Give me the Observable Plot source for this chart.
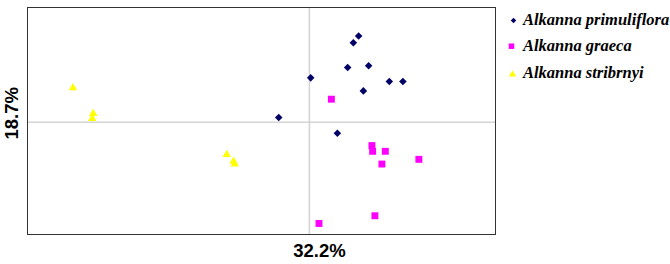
<!DOCTYPE html>
<html>
<head>
<meta charset="utf-8">
<script src="https://cdn.jsdelivr.net/npm/d3@7"></script>
<script src="https://cdn.jsdelivr.net/npm/@observablehq/plot@0.6"></script>
<style>
  html, body { margin: 0; padding: 0; background: #fff; }
  #wrap { position: relative; width: 670px; height: 264px; overflow: hidden; }
</style>
</head>
<body>
<div id="wrap"></div>
<script>
const species = ["Alkanna primuliflora", "Alkanna graeca", "Alkanna stribrnyi"];
const colors = ["#000066", "#ff00ff", "#ffff00"];
const symbols = ["diamond2", "square", "triangle"];
const xLabel = "32.2%";
const yLabel = "18.7%";

// PCA scores
const primulifloraX = [0.493, 0.440, 0.383, 0.593, 0.013, 0.800, 0.936, 0.540, -0.307, 0.280];
const primulifloraY = [0.860, 0.793, 0.547, 0.563, 0.443, 0.407, 0.407, 0.313, 0.047, -0.110];
const graecaX = [0.220, 0.626, 0.633, 0.760, 0.726, 1.096, 0.096, 0.656];
const graecaY = [0.230, -0.233, -0.290, -0.290, -0.417, -0.370, -1.010, -0.933];
const stribrnyiX = [-2.367, -2.164, -2.174, -0.827, -0.760, -0.747];
const stribrnyiY = [0.343, 0.087, 0.037, -0.323, -0.390, -0.417];

const xDomain = [-2.822, 1.863];
const yDomain = [-1.12, 1.145];

const rows = [];
[[primulifloraX, primulifloraY], [graecaX, graecaY], [stribrnyiX, stribrnyiY]].forEach(([xs, ys], i) => {
  xs.forEach((x, j) => rows.push({species: species[i], x, y: ys[j]}));
});

const rSize = [3.4, 3.9, 3.1];
const legendR = [2.5, 3.1, 2.7];
const legendDotDx = [18, 16, 17];
const legendDotDy = [13, 38.7, 67];
const legendTextDy = [12.5, 38, 65.5];

const chart = Plot.plot({
  width: 670,
  height: 264,
  marginLeft: 27,
  marginRight: 175,
  marginTop: 7,
  marginBottom: 30,
  x: {domain: xDomain, axis: null},
  y: {domain: yDomain, axis: null},
  color: {domain: species, range: colors},
  symbol: {domain: species, range: symbols},
  style: {background: "#fff", overflow: "visible"},
  marks: [
    Plot.ruleX([0], {stroke: "#d4d4d4", strokeWidth: 1.6}),
    Plot.ruleY([0], {stroke: "#d4d4d4", strokeWidth: 1.6}),
    Plot.frame({stroke: "#333", strokeWidth: 1}),
    ...species.map((s, i) => Plot.dot(rows.filter(d => d.species === s), {
      x: "x", y: "y", fill: "species", symbol: "species", r: rSize[i], stroke: "none"
    })),
    Plot.text([xLabel], {x: [0], frameAnchor: "bottom", dx: 10, dy: 22, text: d => d,
      fontFamily: "Liberation Sans, Arial, sans-serif", fontWeight: "bold", fontSize: 18.5, fill: "#000"}),
    Plot.text([yLabel], {y: [0], frameAnchor: "left", textAnchor: "middle", dx: -15, dy: -9, rotate: -90, text: d => d,
      fontFamily: "Liberation Sans, Arial, sans-serif", fontWeight: "bold", fontSize: 18.5, fill: "#000"}),
    // legend in the right margin
    ...species.map((s, i) => Plot.dot([s], {frameAnchor: "top-right", symbol: d => d, fill: d => d,
      r: legendR[i], dx: legendDotDx[i], dy: legendDotDy[i]})),
    ...species.map((s, i) => Plot.text([s], {frameAnchor: "top-right", textAnchor: "start", lineAnchor: "middle",
      text: d => d, dx: 27.5, dy: legendTextDy[i],
      fontFamily: "Liberation Serif", fontStyle: "italic", fontWeight: "bold", fontSize: 16.5,
      letterSpacing: "0.45px", fill: "#000"}))
  ]
});
document.getElementById("wrap").appendChild(chart);
</script>
</body>
</html>
